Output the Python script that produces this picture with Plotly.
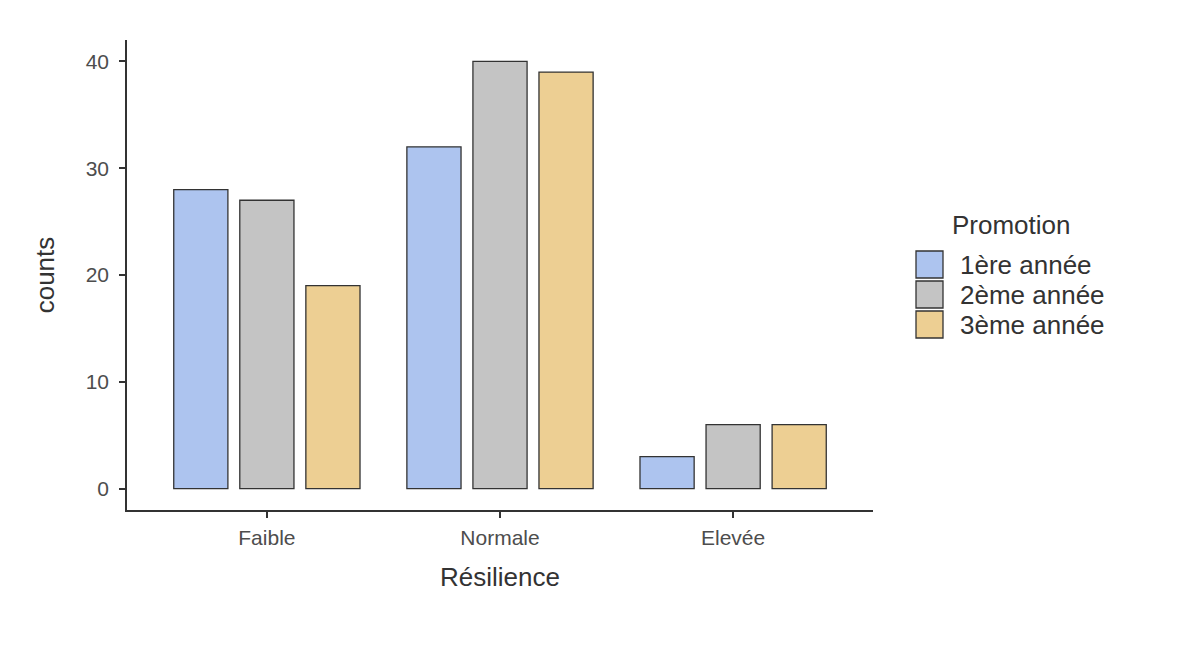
import plotly.graph_objects as go

categories = ["Faible", "Normale", "Elevée"]
series_names = ["1ère année", "2ème année", "3ème année"]
values_1 = [28, 32, 3]
values_2 = [27, 40, 6]
values_3 = [19, 39, 6]
colors = ["#ADC4EF", "#C4C4C4", "#EDCF93"]
legend_title = "Promotion"

W, H = 1200, 645
ML, MR, MT, MB = 119, 335, 32, 143
PW, PH = W - ML - MR, H - MT - MB

fig = go.Figure()
for name, vals, col in zip(series_names, [values_1, values_2, values_3], colors):
    fig.add_trace(go.Bar(
        x=categories, y=vals, name=name, showlegend=False,
        marker=dict(color=col, line=dict(color="#333333", width=1.3)),
    ))

# manual legend with large keys, in paper coordinates
def px_x(v):
    return (v - 127) / PW

def px_y(v):
    return (510 - v) / PH

key_left, key_size, key_pitch, key_top = 916, 27, 30, 251
shapes, annotations = [], []
for i, (name, col) in enumerate(zip(series_names, colors)):
    top = key_top + i * key_pitch
    shapes.append(dict(
        type="rect", xref="paper", yref="paper",
        x0=px_x(key_left), x1=px_x(key_left + key_size),
        y0=px_y(top + key_size), y1=px_y(top),
        fillcolor=col, line=dict(color="#333333", width=1.3),
    ))
    annotations.append(dict(
        xref="paper", yref="paper", x=px_x(958), y=px_y(top + key_size / 2),
        xanchor="left", yanchor="middle", text=name, showarrow=False,
        font=dict(size=26, color="#333333"),
    ))
annotations.append(dict(
    xref="paper", yref="paper", x=px_x(950), y=px_y(225),
    xanchor="left", yanchor="middle", text=legend_title, showarrow=False,
    font=dict(size=26, color="#333333"),
))

font = "Liberation Sans, Arial, sans-serif"
fig.update_layout(
    width=W, height=H,
    paper_bgcolor="white", plot_bgcolor="white",
    barmode="group", bargap=0.15, bargroupgap=0.18,
    margin=dict(l=ML, r=MR, t=MT, b=MB),
    font=dict(family=font, color="#333333"),
    showlegend=False,
    shapes=shapes, annotations=annotations,
    xaxis=dict(
        range=[-0.6, 2.6],
        showline=True, linecolor="#333333", linewidth=1.5,
        ticks="outside", ticklen=6, tickcolor="#333333", tickwidth=1.5,
        tickfont=dict(size=21, color="#4d4d4d"), ticklabelstandoff=2,
        title=dict(text="Résilience", font=dict(size=26, color="#333333"), standoff=20),
        showgrid=False, zeroline=False,
    ),
    yaxis=dict(
        range=[-2, 42],
        tickvals=[0, 10, 20, 30, 40],
        showline=True, linecolor="#333333", linewidth=1.5,
        ticks="outside", ticklen=6, tickcolor="#333333", tickwidth=1.5,
        tickfont=dict(size=21, color="#4d4d4d"), ticklabelstandoff=6,
        title=dict(text="counts", font=dict(size=26, color="#333333"), standoff=24),
        showgrid=False, zeroline=False,
    ),
)

fig.write_html("out.html")
